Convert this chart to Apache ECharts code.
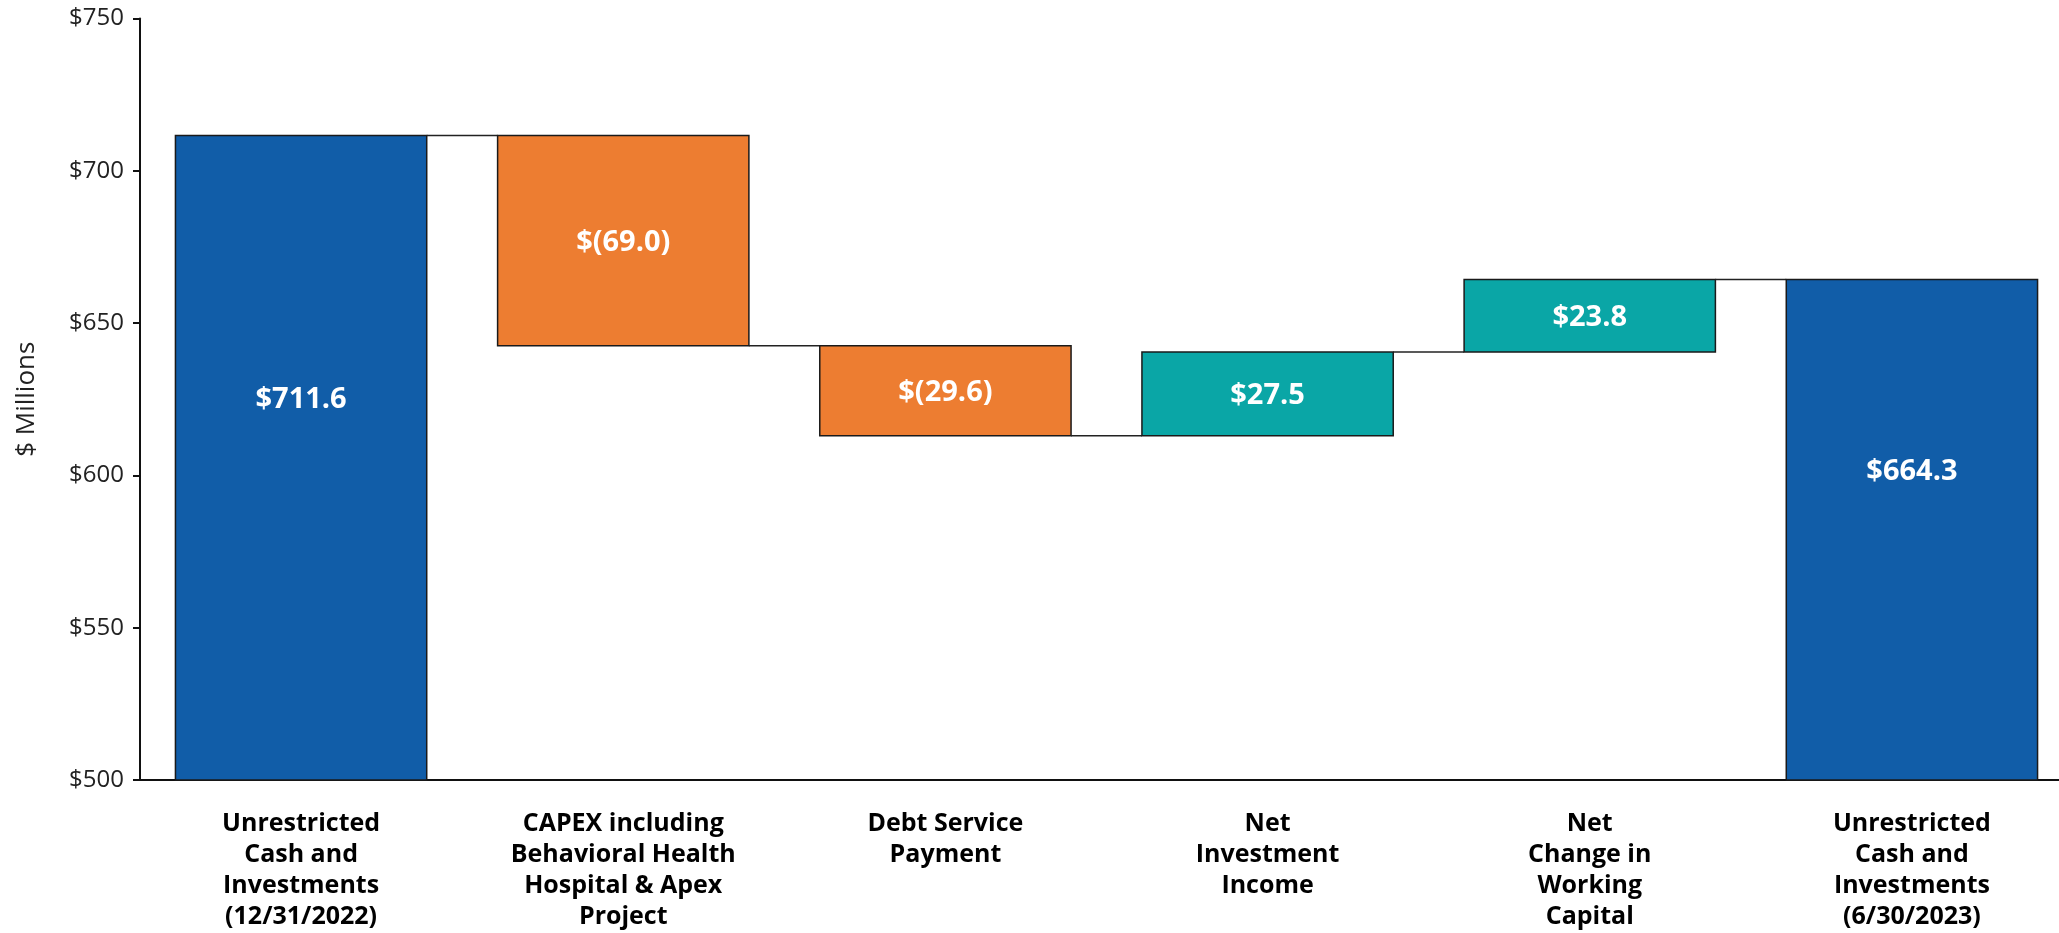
<!DOCTYPE html>
<html>
<head>
<meta charset="utf-8">
<style>
  html, body { margin: 0; padding: 0; background: #fff; }
  #chart { width: 2059px; height: 933px; }
</style>
<script src="https://cdn.jsdelivr.net/npm/echarts@6/dist/echarts.min.js"></script>
</head>
<body>
<div id="chart"></div>
<script>
// Cash bridge, $ millions
const categories = [
  'Unrestricted\nCash and\nInvestments\n(12/31/2022)',
  'CAPEX including\nBehavioral Health\nHospital & Apex\nProject',
  'Debt Service\nPayment',
  'Net\nInvestment\nIncome',
  'Net\nChange in\nWorking\nCapital',
  'Unrestricted\nCash and\nInvestments\n(6/30/2023)'
];
const openingBalance = 711.6;
const changes = [-69.0, -29.6, 27.5, 23.8];
const closingBalance = 664.3;
const yTicks = { min: 500, max: 750, interval: 50 };

const COLORS = { total: '#115DA8', down: '#ED7D31', up: '#0AA6A6' };
const KINDS = ['total', 'down', 'up'];

// Build the floating spans: [index, low, high, kind, value, endLevel]
const spans = [];
spans.push([0, 0, openingBalance, 0, openingBalance, openingBalance]);
let level = openingBalance;
changes.forEach((d, k) => {
  const next = Math.round((level + d) * 10) / 10;
  spans.push([k + 1, Math.min(level, next), Math.max(level, next), d < 0 ? 1 : 2, d, next]);
  level = next;
});
spans.push([spans.length, 0, closingBalance, 0, closingBalance, closingBalance]);

function money(v) {
  return v < 0 ? '$(' + Math.abs(v).toFixed(1) + ')' : '$' + v.toFixed(1);
}

const BAR_RATIO = 0.78;

function renderItem(params, api) {
  const i = api.value(0);
  const lo = api.coord([i, api.value(1)]);
  const hi = api.coord([i, api.value(2)]);
  const w = api.size([1, 0])[0] * BAR_RATIO;
  const cs = params.coordSys;
  const rect = echarts.graphic.clipRectByRect(
    { x: lo[0] - w / 2, y: hi[1], width: w, height: lo[1] - hi[1] },
    { x: cs.x, y: cs.y, width: cs.width, height: cs.height }
  );
  const kind = KINDS[api.value(3)];
  const children = [];
  if (rect) {
    children.push({
      type: 'rect',
      shape: rect,
      style: { fill: COLORS[kind], stroke: '#1a1a1a', lineWidth: 1.5 }
    });
    const midY = rect.y + rect.height / 2 + (kind === 'total' ? -58 : 2);
    children.push({
      type: 'text',
      x: lo[0],
      y: midY,
      z2: 10,
      style: {
        text: money(api.value(4)),
        fill: '#ffffff',
        font: 'bold 29px "Open Sans", sans-serif',
        align: 'center',
        verticalAlign: 'middle'
      }
    });
  }
  // connector to the next bar
  if (i < spans.length - 1) {
    const endY = api.coord([i, api.value(5)])[1];
    const nextX = api.coord([i + 1, 0])[0];
    children.push({
      type: 'line',
      shape: { x1: lo[0] + w / 2, y1: endY, x2: nextX - w / 2, y2: endY },
      style: { stroke: '#222', lineWidth: 1.5 }
    });
  }
  return { type: 'group', children };
}

const chart = echarts.init(document.getElementById('chart'), null, { renderer: 'canvas' });
chart.setOption({
  animation: false,
  backgroundColor: '#ffffff',
  grid: { left: 140, top: 18.5, width: 1933, height: 761.5, containLabel: false, outerBoundsMode: 'none' },
  xAxis: {
    type: 'category',
    data: categories,
    axisLine: { lineStyle: { color: '#111', width: 2 } },
    axisTick: { show: false },
    axisLabel: {
      interval: 0,
      margin: 28,
      color: '#000',
      fontFamily: 'Open Sans',
      fontWeight: 'bold',
      fontSize: 25,
      lineHeight: 31,
      align: 'center'
    },
    splitLine: { show: false }
  },
  yAxis: {
    type: 'value',
    min: yTicks.min,
    max: yTicks.max,
    interval: yTicks.interval,
    name: '$ Millions',
    nameLocation: 'middle',
    nameGap: 100,
    nameTextStyle: { color: '#222', fontFamily: 'Open Sans', fontSize: 26 },
    axisLine: { show: true, lineStyle: { color: '#111', width: 2 } },
    axisTick: { show: true, length: 7, lineStyle: { color: '#111', width: 2 } },
    axisLabel: {
      margin: 16,
      color: '#222',
      fontFamily: 'Open Sans',
      fontSize: 24,
      formatter: v => '$' + v
    },
    splitLine: { show: false }
  },
  series: [{
    type: 'custom',
    renderItem: renderItem,
    encode: { x: 0, y: [1, 2] },
    data: spans
  }]
});
</script>
</body>
</html>
